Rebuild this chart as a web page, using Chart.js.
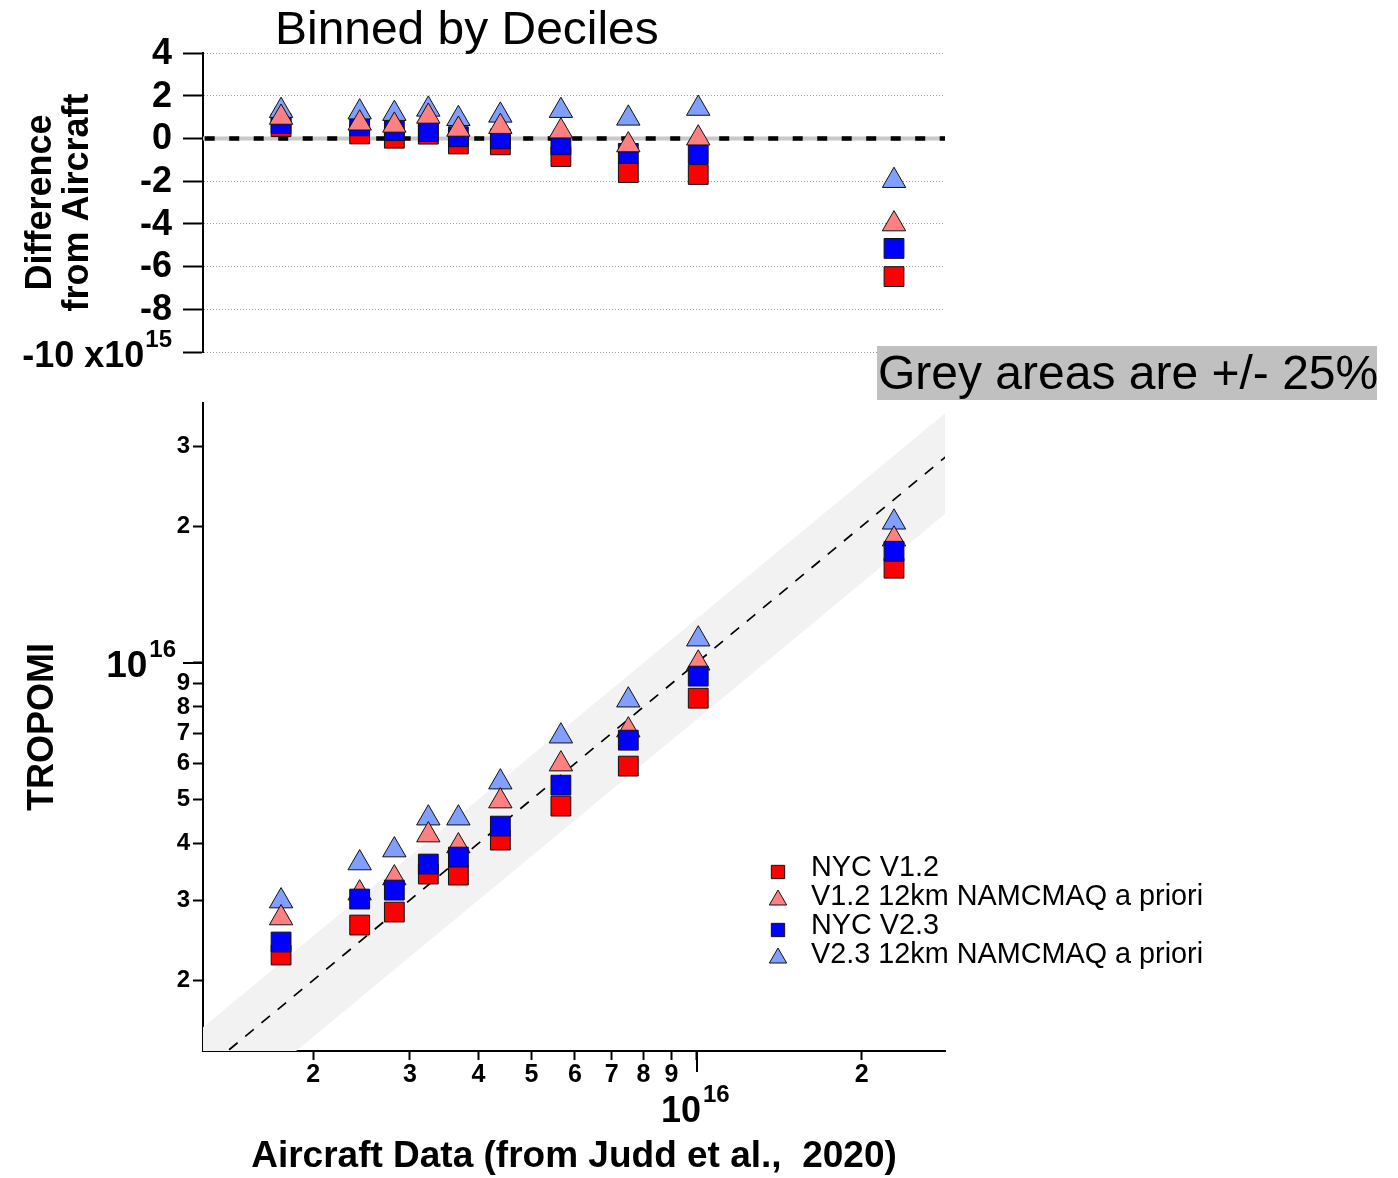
<!DOCTYPE html>
<html>
<head>
<meta charset="utf-8">
<title>Binned by Deciles</title>
<script src="https://cdn.jsdelivr.net/npm/chart.js@4.4.1/dist/chart.umd.min.js"></script>
<style>
  html, body { margin: 0; padding: 0; background: #fff; }
  #wrap { position: relative; width: 1398px; height: 1178px; overflow: hidden; }
  #wrap canvas { position: absolute; left: 0; }
  #diffChart { top: 0; }
  #mainChart { top: 400px; }
</style>
</head>
<body>
<div id="wrap">
  <canvas id="diffChart" width="1398" height="400" style="width:1398px;height:400px"></canvas>
  <canvas id="mainChart" width="1398" height="778" style="width:1398px;height:778px"></canvas>
</div>
<script>
// binned aircraft columns (molec/cm2), one value per decile bin
const AIRCRAFT = [1.747e15, 2.430e15, 2.811e15, 3.242e15, 3.678e15, 4.387e15, 5.657e15, 7.508e15, 1.007e16, 2.291e16];

// TROPOMI columns for each bin
const NYC_V12 = [2.271e15, 2.644e15, 2.824e15, 3.425e15, 3.407e15, 4.069e15, 4.835e15, 5.923e15, 8.36e15, 1.617e16];
const NAM_V12 = [2.740e15, 3.109e15, 3.356e15, 4.174e15, 3.948e15, 4.96e15, 5.983e15, 7.109e15, 9.98e15, 1.873e16];
const NYC_V23 = [2.426e15, 3.017e15, 3.157e15, 3.603e15, 3.733e15, 4.368e15, 5.378e15, 6.756e15, 9.35e15, 1.762e16];
const NAM_V23 = [2.986e15, 3.622e15, 3.868e15, 4.548e15, 4.548e15, 5.46e15, 6.894e15, 8.276e15, 1.128e16, 2.041e16];

// difference from aircraft (x10^15)
const DIFF_NYC_V12 = [0.55, 0.21, 0.01, 0.20, -0.26, -0.30, -0.85, -1.60, -1.69, -6.47];
const DIFF_NAM_V12 = [0.98, 0.71, 0.61, 1.03, 0.42, 0.55, 0.34, -0.31, 0.01, -4.01];
const DIFF_NYC_V23 = [0.70, 0.59, 0.37, 0.32, 0.08, -0.02, -0.30, -0.70, -0.73, -5.15];
const DIFF_NAM_V23 = [1.30, 1.23, 1.16, 1.36, 0.92, 1.08, 1.30, 0.94, 1.40, -1.98];

const SERIES_LABELS = ['NYC V1.2', 'V1.2 12km NAMCMAQ a priori', 'NYC V2.3', 'V2.3 12km NAMCMAQ a priori'];

// reference lines: 1:1 and the +/- 25% band
const LINE_X = [1e15, 4e16];
const ONE_TO_ONE = [1e15, 4e16];
const BAND_HIGH = [1.25e15, 5e16];
const BAND_LOW = [0.75e15, 3e16];
const ZERO_LINE = [0, 0];

// axes
const X_MIN = 1.2587e15, X_MAX = 2.838e16;
const Y_MIN = 1.3955e15, Y_MAX = 3.739e16;
const DECADE = 1e16;
const X_TICKS = [2e15, 3e15, 4e15, 5e15, 6e15, 7e15, 8e15, 9e15, 1e16, 2e16];
const X_TICK_LABELS = ['2', '3', '4', '5', '6', '7', '8', '9', '', '2'];
const Y_TICKS = [2e15, 3e15, 4e15, 5e15, 6e15, 7e15, 8e15, 9e15, 1e16, 2e16, 3e16];
const Y_TICK_LABELS = ['2', '3', '4', '5', '6', '7', '8', '9', '', '2', '3'];
const DIFF_TICKS = [-10, -8, -6, -4, -2, 0, 2, 4];
const DIFF_TICK_LABELS = ['-10 x10', '-8', '-6', '-4', '-2', '0', '2', '4'];
const DIFF_EXP = '15';

const FONT = '"Liberation Sans", Arial, Helvetica, sans-serif';
Chart.defaults.font.family = FONT;
Chart.defaults.color = '#000';

const STYLE = [
  { color: '#ff0000', shape: 'rect', r: 14 },
  { color: '#ff8080', shape: 'triangle', r: 13.5 },
  { color: '#0000ff', shape: 'rect', r: 14 },
  { color: '#809fff', shape: 'triangle', r: 13.5 },
];

function pts(xs, ys) {
  return xs.map((x, i) => ({ x: x, y: ys[i] }));
}

function series(i, values, order) {
  const s = STYLE[i];
  return {
    label: SERIES_LABELS[i],
    data: pts(AIRCRAFT, values),
    pointStyle: s.shape,
    pointRadius: s.r,
    pointBackgroundColor: s.color,
    pointBorderColor: '#111',
    pointBorderWidth: 1,
    order: order,
  };
}

function sText(ctx, text, x, y, size, weight, sx, align, baseline) {
  ctx.save();
  ctx.font = weight + ' ' + size + 'px ' + FONT;
  ctx.textAlign = align;
  ctx.textBaseline = baseline;
  ctx.fillStyle = '#000';
  ctx.translate(x, y);
  ctx.scale(sx, 1);
  ctx.fillText(text, 0, 0);
  const w = ctx.measureText(text).width * sx;
  ctx.restore();
  return w;
}

function marker(ctx, shape, color, r, x, y) {
  ctx.save();
  ctx.fillStyle = color;
  ctx.strokeStyle = '#111';
  ctx.lineWidth = 1;
  ctx.beginPath();
  if (shape === 'rect') {
    const h = r * Math.SQRT1_2;
    ctx.rect(x - h, y - h, 2 * h, 2 * h);
  } else {
    ctx.moveTo(x, y - r);
    ctx.lineTo(x + r * 0.866, y + r / 2);
    ctx.lineTo(x - r * 0.866, y + r / 2);
    ctx.closePath();
  }
  ctx.fill();
  ctx.stroke();
  ctx.restore();
}

const diffText = {
  id: 'diffText',
  afterDraw(chart) {
    const ctx = chart.ctx;
    const ys = chart.scales.y;
    const right = chart.chartArea.left - 31;

    sText(ctx, 'Binned by Deciles', 275, 44, 47, 'normal', 1.02, 'left', 'alphabetic');

    ctx.save();
    ctx.fillStyle = '#c0c0c0';
    ctx.fillRect(877, 346, 500, 54);
    ctx.restore();
    sText(ctx, 'Grey areas are +/- 25%', 878, 389, 48, 'normal', 1.0, 'left', 'alphabetic');

    DIFF_TICKS.forEach((v, i) => {
      const y = ys.getPixelForValue(v);
      if (i === 0) {
        const w = sText(ctx, DIFF_EXP, right, y - 12, 24, 'bold', 1.0, 'right', 'middle');
        sText(ctx, DIFF_TICK_LABELS[i], right - w - 1, y + 5, 36, 'bold', 1.0, 'right', 'middle');
      } else {
        sText(ctx, DIFF_TICK_LABELS[i], right, y + 1, 36, 'bold', 1.0, 'right', 'middle');
      }
    });
  }
};

const mainText = {
  id: 'mainText',
  afterDraw(chart) {
    const ctx = chart.ctx;
    const xs = chart.scales.x, ys = chart.scales.y;
    const area = chart.chartArea;
    const xd = Math.round(xs.getPixelForValue(DECADE));
    const yd = Math.round(ys.getPixelForValue(DECADE));

    // longer tick marks at the decade
    ctx.save();
    ctx.strokeStyle = '#000';
    ctx.lineWidth = 2;
    ctx.beginPath();
    ctx.moveTo(xd, area.bottom);
    ctx.lineTo(xd, area.bottom + 21);
    ctx.moveTo(area.left - 20, yd);
    ctx.lineTo(area.left, yd);
    ctx.stroke();
    ctx.restore();

    X_TICKS.forEach((v, i) => {
      if (X_TICK_LABELS[i]) {
        sText(ctx, X_TICK_LABELS[i], xs.getPixelForValue(v), area.bottom + 24, 25, 'bold', 1.0, 'center', 'middle');
      }
    });
    sText(ctx, '10', xd + 4, area.bottom + 61, 36, 'bold', 1.0, 'right', 'middle');
    sText(ctx, '16', xd + 6, area.bottom + 44, 24, 'bold', 1.0, 'left', 'middle');

    Y_TICKS.forEach((v, i) => {
      if (Y_TICK_LABELS[i]) {
        sText(ctx, Y_TICK_LABELS[i], area.left - 13, ys.getPixelForValue(v), 24, 'bold', 1.0, 'right', 'middle');
      }
    });
    const w16 = sText(ctx, '16', area.left - 27, yd - 13, 24, 'bold', 1.0, 'right', 'middle');
    sText(ctx, '10', area.left - 29 - w16, yd + 4, 37, 'bold', 1.0, 'right', 'middle');

    // legend
    SERIES_LABELS.forEach((label, i) => {
      const base = 476 + i * 29;
      const s = STYLE[i];
      if (s.shape === 'rect') marker(ctx, s.shape, s.color, 9.4, 778, base - 4);
      else marker(ctx, s.shape, s.color, 10, 778, base - 5);
      sText(ctx, label, 811, base, 28.8, 'normal', 1.0, 'left', 'alphabetic');
    });
  }
};

const common = {
  responsive: false,
  animation: false,
  events: [],
  plugins: { legend: { display: false }, tooltip: { enabled: false } },
};

new Chart(document.getElementById('diffChart'), {
  type: 'scatter',
  data: {
    datasets: [
      series(0, DIFF_NYC_V12, 4),
      series(1, DIFF_NAM_V12, 1),
      series(2, DIFF_NYC_V23, 3),
      series(3, DIFF_NAM_V23, 2),
      { type: 'line', data: pts(LINE_X, ZERO_LINE), borderColor: '#c8c8c8', borderWidth: 4, pointRadius: 0, order: 10 },
      { type: 'line', data: pts(LINE_X, ZERO_LINE), borderColor: '#000', borderWidth: 4.5, borderDash: [10, 14.5], borderDashOffset: 17, pointRadius: 0, order: 9 },
    ]
  },
  options: Object.assign({}, common, {
    layout: { autoPadding: false, padding: { left: 0, right: 453, top: 53, bottom: 48 } },
    scales: {
      x: { type: 'logarithmic', display: false, min: X_MIN, max: X_MAX, bounds: 'data' },
      y: {
        type: 'linear', min: -10, max: 4,
        afterBuildTicks: (s) => { s.ticks = DIFF_TICKS.map((v) => ({ value: v })); },
        afterFit: (s) => { s.width = 203; },
        ticks: { display: false },
        grid: { color: '#9a9a9a', lineWidth: 1, tickColor: '#000', tickWidth: 2, tickLength: 20, tickBorderDash: [] },
        border: { color: '#000', width: 2, dash: [1, 2] },
        title: {
          display: true, text: ['Difference', 'from Aircraft'],
          font: { size: 36, weight: 'bold', lineHeight: '37px' },
          padding: { top: 23, bottom: 0 }
        }
      }
    }
  }),
  plugins: [diffText]
});

new Chart(document.getElementById('mainChart'), {
  type: 'scatter',
  data: {
    datasets: [
      series(0, NYC_V12, 4),
      series(1, NAM_V12, 2),
      series(2, NYC_V23, 1),
      series(3, NAM_V23, 3),
      { type: 'line', data: pts(LINE_X, ONE_TO_ONE), borderColor: '#000', borderWidth: 1.7, borderDash: [11, 10], pointRadius: 0, order: 9 },
      { type: 'line', data: pts(LINE_X, BAND_HIGH), borderWidth: 0, borderColor: 'rgba(0,0,0,0)', backgroundColor: '#f2f2f2', fill: '+1', pointRadius: 0, order: 11 },
      { type: 'line', data: pts(LINE_X, BAND_LOW), borderWidth: 0, borderColor: 'rgba(0,0,0,0)', pointRadius: 0, order: 12 },
    ]
  },
  options: Object.assign({}, common, {
    layout: { autoPadding: false, padding: { left: 0, right: 453, top: 3, bottom: 0 } },
    scales: {
      x: {
        type: 'logarithmic', min: X_MIN, max: X_MAX, bounds: 'data',
        afterBuildTicks: (s) => { s.ticks = X_TICKS.map((v) => ({ value: v })); },
        afterFit: (s) => { s.height = 127; },
        ticks: { display: false },
        grid: { drawOnChartArea: false, tickColor: '#000', tickWidth: 2, tickLength: 9 },
        border: { color: '#000', width: 2 },
        title: {
          display: true, text: 'Aircraft Data (from Judd et al.,  2020)',
          font: { size: 37, weight: 'bold', lineHeight: '40px' },
          padding: { top: 0, bottom: 1 }
        }
      },
      y: {
        type: 'logarithmic', min: Y_MIN, max: Y_MAX, bounds: 'data',
        afterBuildTicks: (s) => { s.ticks = Y_TICKS.map((v) => ({ value: v })); },
        afterFit: (s) => { s.width = 203; },
        ticks: { display: false },
        grid: { drawOnChartArea: false, tickColor: '#000', tickWidth: 2, tickLength: 10 },
        border: { color: '#000', width: 2 },
        title: {
          display: true, text: 'TROPOMI',
          font: { size: 36, weight: 'bold', lineHeight: '43px' },
          padding: { top: 21.5, bottom: 0 }
        }
      }
    }
  }),
  plugins: [mainText]
});
</script>
</body>
</html>
